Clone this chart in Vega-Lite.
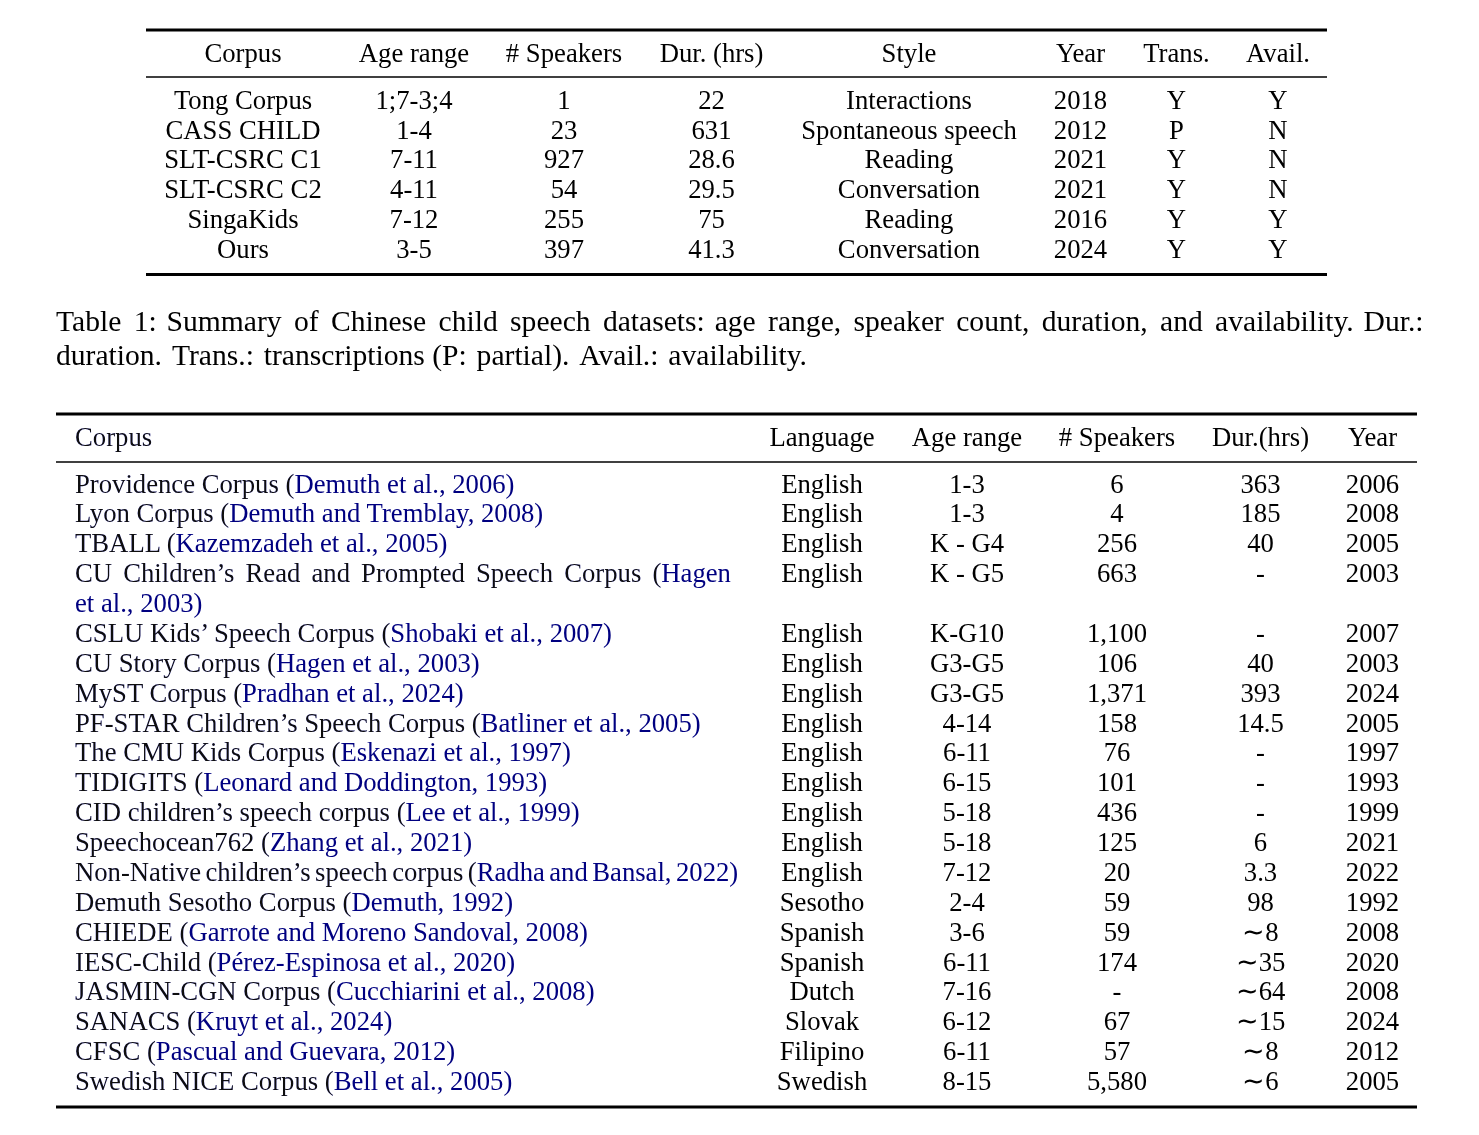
{
  "$schema": "https://vega.github.io/schema/vega-lite/v6.json",
  "width": 1479,
  "height": 1135,
  "autosize": {"type": "fit", "contains": "padding"},
  "padding": 0,
  "background": "#ffffff",
  "config": {"view": {"stroke": null}},
  "datasets": {
    "cols": [
      {"key": "Corpus", "c": 1}, {"key": "Age", "c": 2}, {"key": "Spk", "c": 3}, {"key": "Dur", "c": 4},
      {"key": "Style", "c": 5}, {"key": "Year", "c": 6}, {"key": "Trans", "c": 7}, {"key": "Avail", "c": 8},
      {"key": "Lang", "c": 12}, {"key": "Age2", "c": 13}, {"key": "Spk2", "c": 14}, {"key": "Dur2", "c": 15}, {"key": "Year2", "c": 16}
    ],
    "rules": [
      {"r": 0, "c": 0, "c2": 9, "w": "heavy"},
      {"r": 2, "c": 0, "c2": 9, "w": "light"},
      {"r": 9, "c": 0, "c2": 9, "w": "heavy"},
      {"r": 12, "c": 10, "c2": 17, "w": "heavy"},
      {"r": 14, "c": 10, "c2": 17, "w": "light"},
      {"r": 36, "c": 10, "c2": 17, "w": "heavy"}
    ],
    "t1": [
      {"r": 1, "Corpus": "Corpus", "Age": "Age range", "Spk": "# Speakers", "Dur": "Dur. (hrs)", "Style": "Style", "Year": "Year", "Trans": "Trans.", "Avail": "Avail."},
      {"r": 3, "Corpus": "Tong Corpus", "Age": "1;7-3;4", "Spk": "1", "Dur": "22", "Style": "Interactions", "Year": "2018", "Trans": "Y", "Avail": "Y"},
      {"r": 4, "Corpus": "CASS CHILD", "Age": "1-4", "Spk": "23", "Dur": "631", "Style": "Spontaneous speech", "Year": "2012", "Trans": "P", "Avail": "N"},
      {"r": 5, "Corpus": "SLT-CSRC C1", "Age": "7-11", "Spk": "927", "Dur": "28.6", "Style": "Reading", "Year": "2021", "Trans": "Y", "Avail": "N"},
      {"r": 6, "Corpus": "SLT-CSRC C2", "Age": "4-11", "Spk": "54", "Dur": "29.5", "Style": "Conversation", "Year": "2021", "Trans": "Y", "Avail": "N"},
      {"r": 7, "Corpus": "SingaKids", "Age": "7-12", "Spk": "255", "Dur": "75", "Style": "Reading", "Year": "2016", "Trans": "Y", "Avail": "Y"},
      {"r": 8, "Corpus": "Ours", "Age": "3-5", "Spk": "397", "Dur": "41.3", "Style": "Conversation", "Year": "2024", "Trans": "Y", "Avail": "Y"}
    ],
    "t2": [
      {"r": 13, "text": "Corpus", "plain": "Corpus", "Lang": "Language", "Age2": "Age range", "Spk2": "# Speakers", "Dur2": "Dur.(hrs)", "Year2": "Year"},
      {"r": 15, "text": "Providence Corpus (Demuth et al., 2006)", "plain": "Providence Corpus (", "Lang": "English", "Age2": "1-3", "Spk2": "6", "Dur2": "363", "Year2": "2006"},
      {"r": 16, "text": "Lyon Corpus (Demuth and Tremblay, 2008)", "plain": "Lyon Corpus (", "Lang": "English", "Age2": "1-3", "Spk2": "4", "Dur2": "185", "Year2": "2008"},
      {"r": 17, "text": "TBALL (Kazemzadeh et al., 2005)", "plain": "TBALL (", "Lang": "English", "Age2": "K - G4", "Spk2": "256", "Dur2": "40", "Year2": "2005"},
      {"r": 18, "text": "CU \u2006Children’s \u2006Read \u2006and \u2006Prompted \u2006Speech \u2006Corpus \u2006(Hagen", "plain": "CU \u2006Children’s \u2006Read \u2006and \u2006Prompted \u2006Speech \u2006Corpus \u2006(", "Lang": "English", "Age2": "K - G5", "Spk2": "663", "Dur2": "-", "Year2": "2003"},
      {"r": 19, "text": "et al., 2003)", "plain": ""},
      {"r": 20, "text": "CSLU Kids’ Speech Corpus (Shobaki et al., 2007)", "plain": "CSLU Kids’ Speech Corpus (", "Lang": "English", "Age2": "K-G10", "Spk2": "1,100", "Dur2": "-", "Year2": "2007"},
      {"r": 21, "text": "CU Story Corpus (Hagen et al., 2003)", "plain": "CU Story Corpus (", "Lang": "English", "Age2": "G3-G5", "Spk2": "106", "Dur2": "40", "Year2": "2003"},
      {"r": 22, "text": "MyST Corpus (Pradhan et al., 2024)", "plain": "MyST Corpus (", "Lang": "English", "Age2": "G3-G5", "Spk2": "1,371", "Dur2": "393", "Year2": "2024"},
      {"r": 23, "text": "PF-STAR Children’s Speech Corpus (Batliner et al., 2005)", "plain": "PF-STAR Children’s Speech Corpus (", "Lang": "English", "Age2": "4-14", "Spk2": "158", "Dur2": "14.5", "Year2": "2005"},
      {"r": 24, "text": "The CMU Kids Corpus (Eskenazi et al., 1997)", "plain": "The CMU Kids Corpus (", "Lang": "English", "Age2": "6-11", "Spk2": "76", "Dur2": "-", "Year2": "1997"},
      {"r": 25, "text": "TIDIGITS (Leonard and Doddington, 1993)", "plain": "TIDIGITS (", "Lang": "English", "Age2": "6-15", "Spk2": "101", "Dur2": "-", "Year2": "1993"},
      {"r": 26, "text": "CID children’s speech corpus (Lee et al., 1999)", "plain": "CID children’s speech corpus (", "Lang": "English", "Age2": "5-18", "Spk2": "436", "Dur2": "-", "Year2": "1999"},
      {"r": 27, "text": "Speechocean762 (Zhang et al., 2021)", "plain": "Speechocean762 (", "Lang": "English", "Age2": "5-18", "Spk2": "125", "Dur2": "6", "Year2": "2021"},
      {"r": 28, "text": "Non-Native\u2006children’s\u2006speech\u2006corpus\u2006(Radha\u2006and\u2006Bansal,\u20062022)", "plain": "Non-Native\u2006children’s\u2006speech\u2006corpus\u2006(", "Lang": "English", "Age2": "7-12", "Spk2": "20", "Dur2": "3.3", "Year2": "2022"},
      {"r": 29, "text": "Demuth Sesotho Corpus (Demuth, 1992)", "plain": "Demuth Sesotho Corpus (", "Lang": "Sesotho", "Age2": "2-4", "Spk2": "59", "Dur2": "98", "Year2": "1992"},
      {"r": 30, "text": "CHIEDE (Garrote and Moreno Sandoval, 2008)", "plain": "CHIEDE (", "Lang": "Spanish", "Age2": "3-6", "Spk2": "59", "Dur2": "∼8", "Year2": "2008"},
      {"r": 31, "text": "IESC-Child (Pérez-Espinosa et al., 2020)", "plain": "IESC-Child (", "Lang": "Spanish", "Age2": "6-11", "Spk2": "174", "Dur2": "∼35", "Year2": "2020"},
      {"r": 32, "text": "JASMIN-CGN Corpus (Cucchiarini et al., 2008)", "plain": "JASMIN-CGN Corpus (", "Lang": "Dutch", "Age2": "7-16", "Spk2": "-", "Dur2": "∼64", "Year2": "2008"},
      {"r": 33, "text": "SANACS (Kruyt et al., 2024)", "plain": "SANACS (", "Lang": "Slovak", "Age2": "6-12", "Spk2": "67", "Dur2": "∼15", "Year2": "2024"},
      {"r": 34, "text": "CFSC (Pascual and Guevara, 2012)", "plain": "CFSC (", "Lang": "Filipino", "Age2": "6-11", "Spk2": "57", "Dur2": "∼8", "Year2": "2012"},
      {"r": 35, "text": "Swedish NICE Corpus (Bell et al., 2005)", "plain": "Swedish NICE Corpus (", "Lang": "Swedish", "Age2": "8-15", "Spk2": "5,580", "Dur2": "∼6", "Year2": "2005"}
    ],
    "caption": [
      {"r": 10, "line": "Table \u20061:\u2004Summary \u2006of \u2006Chinese \u2006child \u2006speech \u2006datasets:\u2004age \u2006range, \u2006speaker \u2006count, \u2006duration, \u2006and \u2006availability.\u2004Dur.:"},
      {"r": 11, "line": "duration.\u2004Trans.:\u2004transcriptions (P:\u2004partial).\u2004Avail.:\u2004availability."}
    ]
  },
  "layer": [
    {
      "data": {"name": "rules"},
      "mark": {"type": "rule", "color": "#000000"},
      "encoding": {
        "x": {"field": "c", "type": "quantitative", "axis": null, "scale": {"domain": [0,1,2,3,4,5,6,7,8,9,10,11,12,13,14,15,16,17,20,21], "range": [146,243,414,564,711.5,909,1080.5,1176.5,1278,1327,56,75,822,967,1117,1260.5,1372.5,1417,56,1421], "nice": false, "zero": false}},
        "x2": {"field": "c2"},
        "y": {"field": "r", "type": "quantitative", "axis": null, "scale": {"domain": [0,1,2,3,8,9,10,11,12,13,14,15,35,36], "range": [30,54,77,101,249.5,274.5,322,356,414,438,462,484.5,1082,1107], "nice": false, "zero": false}},
        "strokeWidth": {"field": "w", "type": "ordinal", "scale": {"domain": ["heavy", "light"], "range": [2.8, 1.6]}, "legend": null}
      }
    },
    {
      "data": {"name": "t1"},
      "transform": [
        {"fold": ["Corpus", "Age", "Spk", "Dur", "Style", "Year", "Trans", "Avail"], "as": ["key", "t"]},
        {"lookup": "key", "from": {"data": {"name": "cols"}, "key": "key", "fields": ["c"]}}
      ],
      "mark": {"type": "text", "font": "Liberation Serif", "fontSize": 26.7, "align": "center", "baseline": "middle", "color": "#000000"},
      "encoding": {
        "x": {"field": "c", "type": "quantitative", "axis": null, "scale": {"domain": [0,1,2,3,4,5,6,7,8,9,10,11,12,13,14,15,16,17,20,21], "range": [146,243,414,564,711.5,909,1080.5,1176.5,1278,1327,56,75,822,967,1117,1260.5,1372.5,1417,56,1421], "nice": false, "zero": false}},
        "y": {"field": "r", "type": "quantitative", "axis": null, "scale": {"domain": [0,1,2,3,8,9,10,11,12,13,14,15,35,36], "range": [30,54,77,101,249.5,274.5,322,356,414,438,462,484.5,1082,1107], "nice": false, "zero": false}},
        "text": {"field": "t", "type": "nominal"}
      }
    },
    {
      "data": {"name": "t2"},
      "transform": [
        {"fold": ["Lang", "Age2", "Spk2", "Dur2", "Year2"], "as": ["key", "t"]},
        {"filter": "isValid(datum.t)"},
        {"lookup": "key", "from": {"data": {"name": "cols"}, "key": "key", "fields": ["c"]}}
      ],
      "mark": {"type": "text", "font": "Liberation Serif", "fontSize": 26.7, "align": "center", "baseline": "middle", "color": "#000000"},
      "encoding": {
        "x": {"field": "c", "type": "quantitative", "axis": null, "scale": {"domain": [0,1,2,3,4,5,6,7,8,9,10,11,12,13,14,15,16,17,20,21], "range": [146,243,414,564,711.5,909,1080.5,1176.5,1278,1327,56,75,822,967,1117,1260.5,1372.5,1417,56,1421], "nice": false, "zero": false}},
        "y": {"field": "r", "type": "quantitative", "axis": null, "scale": {"domain": [0,1,2,3,8,9,10,11,12,13,14,15,35,36], "range": [30,54,77,101,249.5,274.5,322,356,414,438,462,484.5,1082,1107], "nice": false, "zero": false}},
        "text": {"field": "t", "type": "nominal"}
      }
    },
    {
      "data": {"name": "t2"},
      "mark": {"type": "text", "font": "Liberation Serif", "fontSize": 26.7, "align": "left", "baseline": "middle", "color": "#000080"},
      "encoding": {
        "x": {"datum": 11, "type": "quantitative", "axis": null, "scale": {"domain": [0,1,2,3,4,5,6,7,8,9,10,11,12,13,14,15,16,17,20,21], "range": [146,243,414,564,711.5,909,1080.5,1176.5,1278,1327,56,75,822,967,1117,1260.5,1372.5,1417,56,1421], "nice": false, "zero": false}},
        "y": {"field": "r", "type": "quantitative", "axis": null, "scale": {"domain": [0,1,2,3,8,9,10,11,12,13,14,15,35,36], "range": [30,54,77,101,249.5,274.5,322,356,414,438,462,484.5,1082,1107], "nice": false, "zero": false}},
        "text": {"field": "text", "type": "nominal"}
      }
    },
    {
      "data": {"name": "t2"},
      "mark": {"type": "text", "font": "Liberation Serif", "fontSize": 26.7, "align": "left", "baseline": "middle", "color": "#000000", "blend": "color"},
      "encoding": {
        "x": {"datum": 11, "type": "quantitative", "axis": null, "scale": {"domain": [0,1,2,3,4,5,6,7,8,9,10,11,12,13,14,15,16,17,20,21], "range": [146,243,414,564,711.5,909,1080.5,1176.5,1278,1327,56,75,822,967,1117,1260.5,1372.5,1417,56,1421], "nice": false, "zero": false}},
        "y": {"field": "r", "type": "quantitative", "axis": null, "scale": {"domain": [0,1,2,3,8,9,10,11,12,13,14,15,35,36], "range": [30,54,77,101,249.5,274.5,322,356,414,438,462,484.5,1082,1107], "nice": false, "zero": false}},
        "text": {"field": "plain", "type": "nominal"}
      }
    },
    {
      "data": {"name": "caption"},
      "mark": {"type": "text", "font": "Liberation Serif", "fontSize": 29.6, "align": "left", "baseline": "middle", "color": "#000000"},
      "encoding": {
        "x": {"datum": 20, "type": "quantitative", "axis": null, "scale": {"domain": [0,1,2,3,4,5,6,7,8,9,10,11,12,13,14,15,16,17,20,21], "range": [146,243,414,564,711.5,909,1080.5,1176.5,1278,1327,56,75,822,967,1117,1260.5,1372.5,1417,56,1421], "nice": false, "zero": false}},
        "y": {"field": "r", "type": "quantitative", "axis": null, "scale": {"domain": [0,1,2,3,8,9,10,11,12,13,14,15,35,36], "range": [30,54,77,101,249.5,274.5,322,356,414,438,462,484.5,1082,1107], "nice": false, "zero": false}},
        "text": {"field": "line", "type": "nominal"}
      }
    }
  ]
}
